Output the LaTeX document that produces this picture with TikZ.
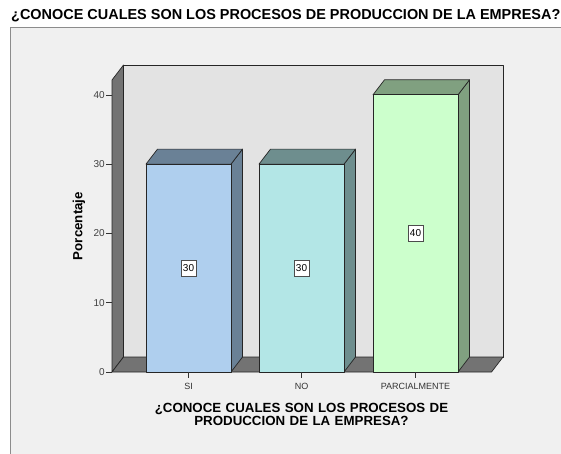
\documentclass[tikz,border=0pt]{standalone}
\usepackage{fontspec}
\setmainfont{Liberation Sans}
\usepackage{tikz}
\usetikzlibrary{positioning}
\definecolor{framegray}{HTML}{F0F0F0}
\definecolor{wallback}{HTML}{E3E3E3}
\definecolor{walldark}{HTML}{737373}
\definecolor{sifront}{HTML}{AFCFEE}
\definecolor{siside}{HTML}{6A8196}
\definecolor{nofront}{HTML}{B3E6E6}
\definecolor{noside}{HTML}{6E8E8E}
\definecolor{pafront}{HTML}{CCFFCC}
\definecolor{paside}{HTML}{80A080}

\begin{document}
\begin{tikzpicture}[
    x=1pt, y=-1pt,
    outline/.style={draw=black!85, line width=0.7pt, line join=round},
    valuebox/.style={
        rectangle,
        draw=black!70,
        fill=white,
        inner sep=1.8pt,
        minimum height=16pt,
        font=\fontsize{10}{11}\selectfont
    },
    ticklabel/.style={font=\fontsize{10}{11}\selectfont, text=black!75, inner sep=1pt},
    catlabel/.style={font=\fontsize{9}{10}\selectfont, text=black!80, inner sep=1pt},
    axistitle/.style={font=\fontsize{13.3}{13}\selectfont\bfseries, align=center, inner sep=0pt}
]
\useasboundingbox (0,0) rectangle (561,453);

% Frame of the chart
\fill[white] (0,0) rectangle (561,453);
\filldraw[fill=framegray, draw=black!45, line width=0.8pt] (10,27) rectangle (570,460);

% Title
\node[anchor=base west, inner sep=0pt, font=\fontsize{14.45}{15}\selectfont\bfseries]
    (title) at (11,19.3) {¿CONOCE CUALES SON LOS PROCESOS DE PRODUCCION DE LA EMPRESA?};

% Back wall, left wall and floor
\filldraw[outline, fill=wallback] (123.5,65) rectangle (503,357);
\filldraw[outline, fill=walldark] (112,372) -- (112,80) -- (123.5,65) -- (123.5,357) -- cycle;
\filldraw[outline, fill=walldark] (112,372) -- (491.5,372) -- (503,357) -- (123.5,357) -- cycle;

% Y axis ticks and labels
\foreach \v in {0,10,20,30,40} {
    \pgfmathsetmacro{\ty}{372-6.93*\v}
    \draw[black!80, line width=0.6pt] (106,\ty) -- (112,\ty);
    \node[ticklabel, anchor=east] (yt\v) at (106,\ty) {\v};
}

% Bars
\foreach \i/\x/\v/\fc/\sc/\lab in {1/146/30/sifront/siside/SI,
                                   2/259/30/nofront/noside/NO,
                                   3/373/40/pafront/paside/PARCIALMENTE} {
    \pgfmathsetmacro{\top}{372-6.93*\v}
    \pgfmathsetmacro{\xr}{\x+85}
    \pgfmathsetmacro{\xm}{\x+42.5}
    \pgfmathsetmacro{\ym}{372-6.93*\v/2}
    % side and top
    \filldraw[outline, fill=\sc] (\xr,372) -- (\xr,\top) -- ({\xr+11.5},{\top-15}) -- ({\xr+11.5},357) -- cycle;
    \filldraw[outline, fill=\sc] (\x,\top) -- ({\x+11.5},{\top-15}) -- ({\xr+11.5},{\top-15}) -- (\xr,\top) -- cycle;
    % front
    \filldraw[outline, fill=\fc] (\x,372) rectangle (\xr,\top);
    % value label
    \node[valuebox] (val\i) at (\xm,\ym) {\v};
    % category tick and label
    \draw[black!80, line width=0.6pt] (\xm,372) -- (\xm,378);
    \node[catlabel, anchor=base] (cat\i) at (\xm,389) {\lab};
}

% Axis titles
\node[axistitle, rotate=90] (ylabel) at (79,226) {Porcentaje};
\node[axistitle, text width=340pt, anchor=base] (xlabel) at (301.5,412.7)
    {¿CONOCE CUALES SON LOS PROCESOS DE\\PRODUCCION DE LA EMPRESA?};

\end{tikzpicture}
\end{document}
